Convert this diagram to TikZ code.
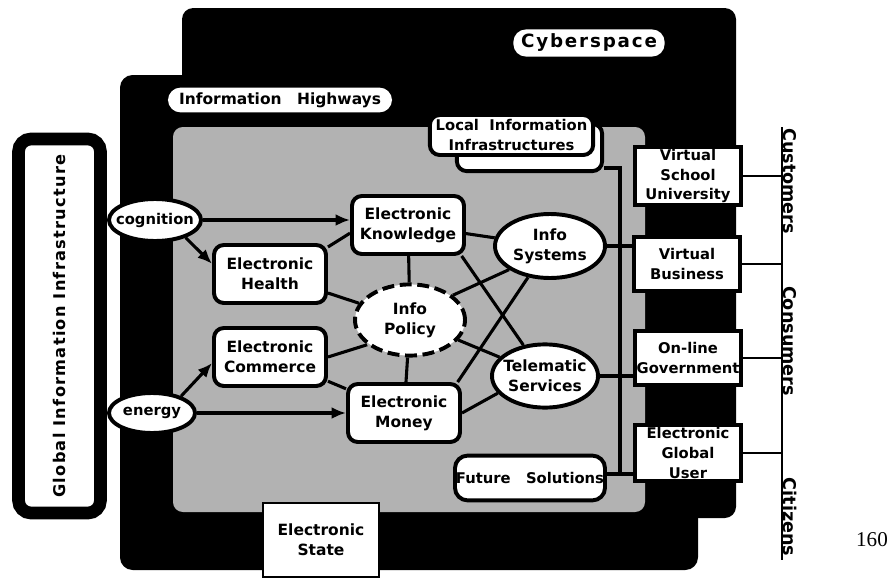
\documentclass[tikz,border=0pt]{standalone}
\usepackage{fontspec}
\setmainfont{DejaVu Sans}
\newfontfamily\pagenumfont{Liberation Serif}
\usepackage{tikz}
\usetikzlibrary{shapes,arrows,arrows.meta,calc}
\newcommand{\nodefont}{\fontsize{11}{14}\selectfont\bfseries}
\newcommand{\smallfont}{\fontsize{10.5}{14}\selectfont\bfseries}
\newcommand{\userfont}{\fontsize{10.5}{14}\selectfont\bfseries}
\newcommand{\sidefont}{\fontsize{12.5}{14}\selectfont\bfseries}
\newcommand{\cyberfont}{\fontsize{13}{15}\selectfont\bfseries\addfontfeatures{LetterSpace=10}}
\newcommand{\globalfont}{\fontsize{11.5}{13}\selectfont\bfseries\addfontfeatures{LetterSpace=8}}
\tikzstyle{block} = [rectangle, draw, line width=2.8pt, fill=white, rounded corners=7pt, align=center, font=\nodefont, minimum width=2.8cm, minimum height=1.45cm, inner sep=0pt]
\tikzstyle{round} = [ellipse, draw, line width=2.8pt, fill=white, align=center, font=\nodefont, inner sep=0pt]
\tikzstyle{user} = [rectangle, draw, line width=2.2pt, fill=white, align=center, font=\userfont, minimum width=2.65cm, inner sep=0pt]
\tikzstyle{pill} = [rectangle, fill=white, rounded corners=9pt, inner sep=0pt]
\tikzstyle{line} = [draw, line width=2.2pt]
\tikzstyle{arrow} = [draw, -{Latex[length=0.36cm, width=0.3cm]}, line width=2.2pt]
\tikzstyle{side} = [rotate=-90, anchor=south, font=\sidefont, inner sep=0.5pt]

\begin{document}
\begin{tikzpicture}[x=0.025cm, y=-0.025cm]
\useasboundingbox (0,0) rectangle (890,579);

% layers
\fill [rounded corners=8pt] (182,8) rectangle (736,518);
\fill [rounded corners=9pt] (120,75) rectangle (698,570);
\fill [black!30, rounded corners=7pt] (173,127) rectangle (645,512);

\node [pill, minimum width=3.78cm, minimum height=0.68cm, font=\cyberfont] (cyber) at (589,43) {Cyberspace};
\node [pill, minimum width=5.6cm, minimum height=0.62cm, font=\nodefont] (highways) at (280,100) {Information\quad Highways};

\node [draw, line width=9pt, fill=white, rounded corners=9pt, rotate=90, minimum width=9.35cm, minimum height=2.05cm, font=\globalfont] (global) at (59.5,326) {Global Information Infrastructure};

% inner nodes
\node [block, minimum width=3.63cm, minimum height=1.18cm] (liiback) at (529.5,147.5) {};
\node [block, minimum width=4.08cm, minimum height=1.0cm, font=\smallfont] (lii) at (511.5,135) {Local\ \ Information\\Infrastructures};

\node [round, minimum width=2.3cm, minimum height=1.05cm, inner xsep=-0.17cm, font=\smallfont] (cognition) at (155,220) {cognition};
\node [round, minimum width=2.15cm, minimum height=1.0cm, font=\smallfont] (energy) at (152,413) {energy};

\node [block] (health) at (270,274) {Electronic\\Health};
\node [block] (know) at (408,225) {Electronic\\Knowledge};
\node [block] (commerce) at (270,357) {Electronic\\Commerce};
\node [block] (money) at (404,413) {Electronic\\Money};

\node [round, dash pattern=on 8.5pt off 4pt, minimum width=2.75cm, minimum height=1.78cm] (policy) at (410,320) {Info\\Policy};
\node [round, minimum width=2.75cm, minimum height=1.6cm] (systems) at (550,246) {Info\\Systems};
\node [round, minimum width=2.65cm, minimum height=1.58cm, inner xsep=-0.15cm] (telematic) at (545,376) {Telematic\\Services};

\node [block, rounded corners=9pt, minimum width=3.75cm, minimum height=1.12cm, font=\smallfont] (future) at (530,478) {Future\ \ \ Solutions};

\node [user, minimum height=1.45cm] (school) at (688,176) {Virtual\\School\\University};
\node [user, minimum height=1.35cm] (business) at (687,264) {Virtual\\Business};
\node [user, minimum height=1.35cm] (government) at (688,358) {On-line\\Government};
\node [user, minimum height=1.4cm] (globaluser) at (688,453) {Electronic\\Global\\User};

\node [user, line width=1.8pt, minimum width=2.9cm, minimum height=1.85cm, font=\nodefont] (state) at (321,540) {Electronic\\State};

% arrows in
\path [arrow] (cognition.east) -- (cognition.east -| know.west);
\path [arrow] (cognition.-30) -- (health.170);
\path [arrow] (energy.30) -- (commerce.186);
\path [arrow] (energy.east) -- (energy.east -| money.west);

% links
\path [line] (health.25) -- (know.188);
\path [line] (health) -- (policy);
\path [line] (know) -- (policy);
\path [line] (know) -- (systems);
\path [line] (know.-30) -- (telematic.125);
\path [line] (policy.30) -- (systems.210);
\path [line] (money.30) -- (systems.235);
\path [line] (policy) -- (telematic);
\path [line] (commerce.east) -- (policy.210);
\path [line] (commerce) -- (money);
\path [line] (policy) -- (money);
\path [line] (money.east) -- (telematic.200);

% bus to the users
\coordinate (bustop) at (620,168);
\coordinate (busbottom) at (620,474);
\path [line] (liiback.east |- bustop) -- (bustop) -- (busbottom);
\path [line] (systems.east) -- (systems.east -| business.west);
\path [line] (telematic.east) -- (telematic.east -| government.west);
\path [line] (future.east |- busbottom) -- (busbottom -| globaluser.west);

% rail
\coordinate (railtop) at (782,127);
\coordinate (railbottom) at (782,560);
\path [line, line width=1.5pt] (railtop) -- (railbottom);
\foreach \n in {school,business,government,globaluser}
  \path [line, line width=1.5pt] (\n.east) -- (\n.east -| railtop);
\node [side] (customers) at (782,181) {Customers};
\node [side] (consumers) at (782,341) {Consumers};
\node [side] (citizens) at (782,517) {Citizens};

\node [font=\pagenumfont\fontsize{15}{15}\selectfont] (pagenum) at (872,540) {160};
\end{tikzpicture}
\end{document}
